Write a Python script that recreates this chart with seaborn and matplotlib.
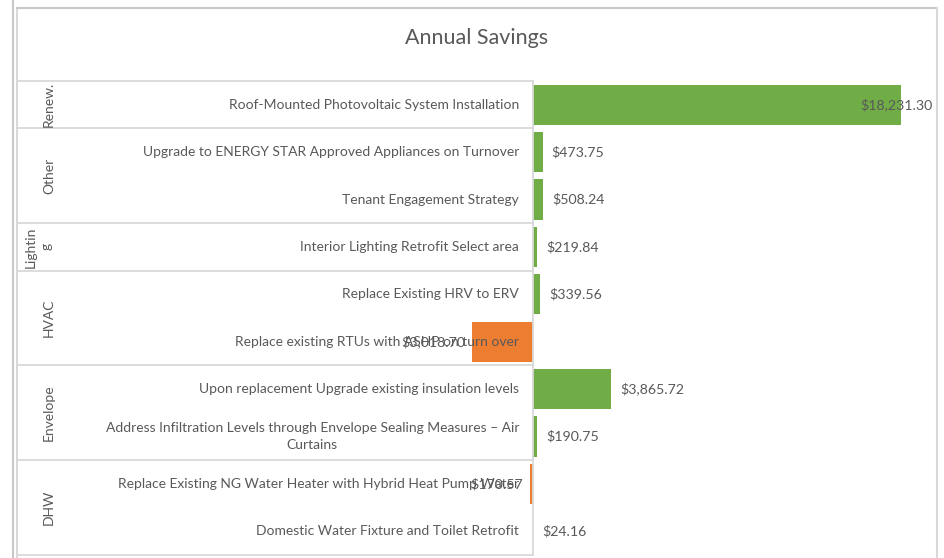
import numpy as np
import pandas as pd
import matplotlib
matplotlib.use("Agg")
import matplotlib.pyplot as plt
from matplotlib.lines import Line2D
from matplotlib.transforms import blended_transform_factory
import seaborn as sns

# ── Data ──────────────────────────────────────────────────────
groups = ["Renew.", "Other", "Other", "Lightin\ng", "HVAC", "HVAC",
          "Envelope", "Envelope", "DHW", "DHW"]
measures = [
    "Roof-Mounted Photovoltaic System Installation",
    "Upgrade to ENERGY STAR Approved Appliances on Turnover",
    "Tenant Engagement Strategy",
    "Interior Lighting Retrofit Select area",
    "Replace Existing HRV to ERV",
    "Replace existing RTUs with ASHP on turn over",
    "Upon replacement Upgrade existing insulation levels",
    "Address Infiltration Levels through Envelope Sealing Measures \u2013 Air\nCurtains",
    "Replace Existing NG Water Heater with Hybrid Heat Pump Water",
    "Domestic Water Fixture and Toilet Retrofit",
]
savings = [18231.30, 473.75, 508.24, 219.84, 339.56,
           -3018.70, 3865.72, 190.75, -170.57, 24.16]

GREEN = "#70AD47"
ORANGE = "#ED7D31"
TXT = "#595959"
LINE = "#D9D9D9"

df = pd.DataFrame({"measure": measures, "group": groups, "savings": savings})
df["sign"] = np.where(df["savings"] >= 0, "gain", "loss")

plt.rcParams["font.family"] = ["Lato", "DejaVu Sans"]

W, H = 945, 558
fig = plt.figure(figsize=(W / 100, H / 100), dpi=100)


def fx(px):
    return px / W


def fy(py):
    return 1 - py / H


# plot area: zero sits at x=533, 20000 at x=937
ax = fig.add_axes([fx(432), fy(555), fx(937) - fx(432), fy(81) - fy(555)])
sns.barplot(data=df, x="savings", y="measure", hue="sign", order=measures,
            palette={"gain": GREEN, "loss": ORANGE}, dodge=False,
            width=0.85, saturation=1, legend=False, ax=ax, zorder=2)
ax.set_xlim(-5000, 20000)
ax.set_ylim(len(measures) - 0.5, -0.5)
ax.axis("off")

mixed = blended_transform_factory(fig.transFigure, ax.transData)

# ── value labels ──────────────────────────────────────────────
xmax = ax.get_xlim()[1]
for i, v in enumerate(savings):
    lab = f"${abs(v):,.2f}"
    if v > 0.85 * xmax:
        ax.annotate(lab, (xmax, i), xytext=(-3, 0), textcoords="offset points",
                    ha="right", va="center", fontsize=10.2, color=TXT, zorder=5)
    elif v >= 0:
        ax.annotate(lab, (v, i), xytext=(6.5, 0), textcoords="offset points",
                    ha="left", va="center", fontsize=10.2, color=TXT, zorder=5)
    else:
        ax.annotate(lab, (v, i), xytext=(-4.5, 0), textcoords="offset points",
                    ha="right", va="center", fontsize=10.2, color=TXT, zorder=5)

# ── category table (two levels) ───────────────────────────────
for i, m in enumerate(measures):
    ax.text(fx(519), i, m, transform=mixed, ha="right", va="center",
            multialignment="center", fontsize=10, color=TXT, zorder=6,
            linespacing=1.45)

bounds = [-0.5]
names, centers = [], []
start = 0
for i in range(1, len(groups) + 1):
    if i == len(groups) or groups[i] != groups[start]:
        names.append(groups[start])
        centers.append((start + i - 1) / 2)
        bounds.append(i - 0.5)
        start = i

for b in bounds:
    ax.add_line(Line2D([fx(17), fx(533)], [b, b], transform=mixed,
                       color=LINE, lw=1.3, clip_on=False, zorder=4))
ax.add_line(Line2D([fx(533), fx(533)], [bounds[0], bounds[-1]], transform=mixed,
                   color=LINE, lw=1.3, clip_on=False, zorder=4))

for name, c in zip(names, centers):
    nl = name.count("\n")
    ax.text(fx(49 - 10 * nl), c, name, transform=mixed, rotation=90,
            ha="center", va="center", fontsize=10, color=TXT, zorder=6,
            linespacing=1.4)

# ── title and chart border ────────────────────────────────────
fig.text(fx(477), fy(38), "Annual Savings", ha="center", va="center",
         fontsize=15.5, color=TXT)

for xs, ys, col in [([13, 13], [0, 558], "#C8C8C8"),
                    ([17, 17], [8, 558], LINE),
                    ([17, 937], [8, 8], "#C8C8C8"),
                    ([937, 937], [8, 558], LINE)]:
    fig.add_artist(Line2D([fx(x) for x in xs], [fy(y) for y in ys],
                          color=col, lw=1.5))

fig.savefig("out.png", dpi=100, facecolor="white")
